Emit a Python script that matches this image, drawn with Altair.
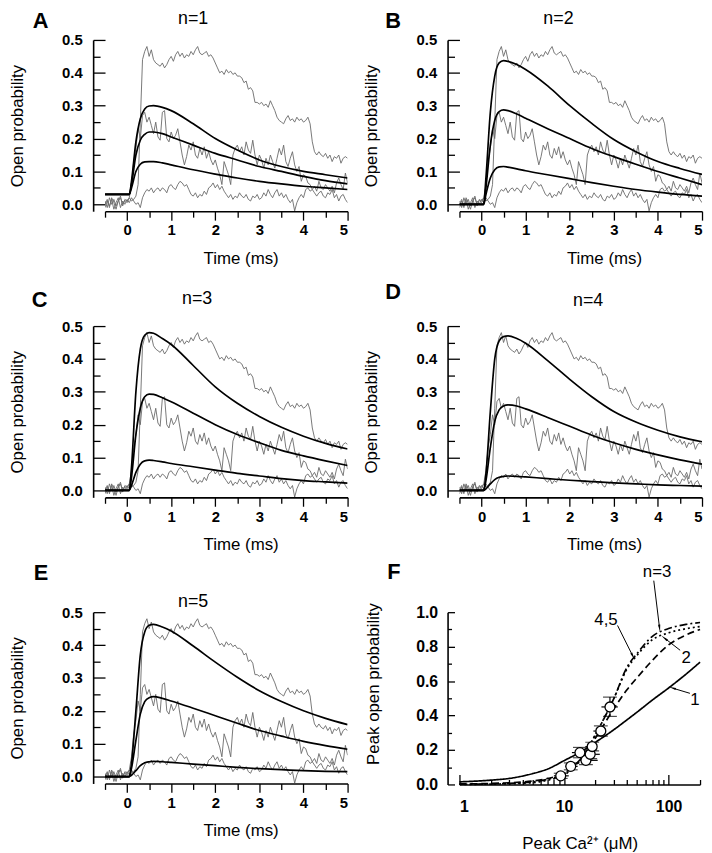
import math
import altair as alt
import pandas as pd

FONT = "Liberation Sans"

# ---------------- time-course traces (same three records in panels A-E) ----------------
TIME = [-0.5, -0.45, -0.4, -0.35, -0.3, -0.25, -0.2, -0.15, -0.1, -0.05,
        0.0, 0.05, 0.1, 0.15, 0.2, 0.25, 0.3, 0.35, 0.4, 0.45, 0.5, 0.55, 0.6, 0.65, 0.7, 0.75, 0.8, 0.85, 0.9, 0.95,
        1.0, 1.05, 1.1, 1.15, 1.2, 1.25, 1.3, 1.35, 1.4, 1.45, 1.5, 1.55, 1.6, 1.65, 1.7, 1.75, 1.8, 1.85, 1.9, 1.95,
        2.0, 2.05, 2.1, 2.15, 2.2, 2.25, 2.3, 2.35, 2.4, 2.45, 2.5, 2.55, 2.6, 2.65, 2.7, 2.75, 2.8, 2.85, 2.9, 2.95,
        3.0, 3.05, 3.1, 3.15, 3.2, 3.25, 3.3, 3.35, 3.4, 3.45, 3.5, 3.55, 3.6, 3.65, 3.7, 3.75, 3.8, 3.85, 3.9, 3.95,
        4.0, 4.05, 4.1, 4.15, 4.2, 4.25, 4.3, 4.35, 4.4, 4.45, 4.5, 4.55, 4.6, 4.65, 4.7, 4.75, 4.8, 4.85, 4.9, 4.95,
        5.0]

TRACE_TOP = [0.01, -0.01, 0.02, 0.0, 0.015, -0.005, 0.01, 0.02, 0.0, 0.012, 0.005, 0.02, 0.01, 0.015, 0.025,
             0.06, 0.25, 0.44, 0.465, 0.48, 0.45, 0.47, 0.44, 0.43, 0.425, 0.42, 0.43, 0.415, 0.425, 0.44,
             0.45, 0.435, 0.455, 0.465, 0.45, 0.46, 0.445, 0.455, 0.45, 0.465, 0.455, 0.47, 0.48, 0.46, 0.455, 0.46, 0.465, 0.45, 0.455, 0.445,
             0.43, 0.415, 0.40, 0.405, 0.395, 0.41, 0.40, 0.405, 0.395, 0.40, 0.39, 0.39, 0.385, 0.37, 0.375, 0.35, 0.355, 0.345, 0.31, 0.31,
             0.305, 0.31, 0.30, 0.305, 0.295, 0.315, 0.30, 0.285, 0.265, 0.255, 0.25, 0.245, 0.26, 0.27, 0.255, 0.26, 0.25, 0.265, 0.255, 0.26,
             0.25, 0.255, 0.265, 0.245, 0.19, 0.16, 0.15, 0.16, 0.15, 0.145, 0.155, 0.14, 0.15, 0.13, 0.145, 0.14, 0.15, 0.125, 0.14, 0.145,
             0.14]

TRACE_MID = [0.0, 0.015, -0.01, 0.02, 0.005, -0.015, 0.01, 0.025, -0.005, 0.015, 0.01,
             0.02, 0.06, 0.13, 0.17, 0.23, 0.20, 0.27, 0.28, 0.25, 0.265, 0.24, 0.215, 0.25, 0.205, 0.195, 0.28, 0.285, 0.20, 0.19,
             0.22, 0.20, 0.21, 0.23, 0.19, 0.15, 0.12, 0.145, 0.18, 0.165, 0.19, 0.15, 0.14, 0.17, 0.15, 0.175, 0.14, 0.16, 0.135, 0.12,
             0.135, 0.11, 0.09, 0.06, 0.13, 0.11, 0.09, 0.06, 0.15, 0.17, 0.18, 0.16, 0.175, 0.15, 0.19, 0.165, 0.155, 0.195, 0.15, 0.12,
             0.15, 0.135, 0.11, 0.14, 0.12, 0.15, 0.13, 0.11, 0.14, 0.17, 0.15, 0.18, 0.13, 0.115, 0.14, 0.16, 0.12, 0.10, 0.115, 0.07,
             0.09, 0.085, 0.065, 0.06, 0.045, 0.055, 0.04, 0.07, 0.05, 0.045, 0.06, 0.05, 0.04, 0.055, 0.035, 0.065, 0.08, 0.06, 0.045, 0.095,
             0.065]

TRACE_LOW = [-0.01, 0.01, -0.005, 0.015, -0.015, 0.005, 0.02, -0.01, 0.01, 0.0, 0.015,
             0.005, 0.02, 0.01, 0.0, 0.005, -0.01, 0.02, 0.035, 0.045, 0.04, 0.05, 0.035, 0.045, 0.05, 0.04, 0.05, 0.045, 0.035, 0.055,
             0.06, 0.05, 0.045, 0.06, 0.07, 0.065, 0.055, 0.06, 0.045, 0.03, 0.025, 0.035, 0.02, 0.03, 0.025, 0.04, 0.03, 0.05, 0.055, 0.065,
             0.05, 0.06, 0.045, 0.055, 0.04, 0.03, 0.02, 0.03, 0.015, 0.025, 0.02, 0.035, 0.025, 0.02, 0.03, 0.015, 0.01, 0.025, 0.02, 0.03,
             0.015, 0.02, 0.035, 0.025, 0.045, 0.03, 0.02, 0.035, 0.045, 0.025, 0.035, 0.02, 0.03, 0.015, 0.005, 0.015, -0.02, 0.005, 0.02, 0.03,
             0.02, 0.045, 0.05, 0.04, 0.045, 0.035, 0.025, 0.035, 0.04, 0.025, 0.02, 0.035, 0.03, 0.045, 0.02, 0.03, 0.01, 0.025, 0.03, 0.015,
             0.005]

# ---------------- fitted curves ----------------
FIT_TIME = [-0.5, 0.05, 0.1, 0.2, 0.3, 0.4, 0.5, 0.6, 0.8, 1.0, 1.5, 2.0, 2.5, 3.0, 3.5, 4.0, 4.5, 5.0]

FIT_A_HIGH = [0.03, 0.03, 0.07, 0.19, 0.26, 0.29, 0.299, 0.30, 0.295, 0.285, 0.245, 0.20, 0.165, 0.135, 0.115, 0.10, 0.09, 0.08]
FIT_A_MID = [0.03, 0.03, 0.06, 0.15, 0.195, 0.213, 0.22, 0.22, 0.215, 0.205, 0.18, 0.155, 0.135, 0.115, 0.10, 0.085, 0.072, 0.062]
FIT_A_LOW = [0.03, 0.03, 0.05, 0.10, 0.122, 0.129, 0.13, 0.13, 0.126, 0.12, 0.105, 0.092, 0.08, 0.07, 0.062, 0.055, 0.05, 0.045]

FIT_B_HIGH = [0, 0, 0.08, 0.28, 0.39, 0.43, 0.437, 0.435, 0.425, 0.41, 0.36, 0.30, 0.246, 0.197, 0.16, 0.13, 0.109, 0.091]
FIT_B_MID = [0, 0, 0.05, 0.18, 0.255, 0.282, 0.287, 0.285, 0.275, 0.262, 0.23, 0.20, 0.17, 0.145, 0.122, 0.10, 0.08, 0.06]
FIT_B_LOW = [0, 0, 0.03, 0.08, 0.105, 0.114, 0.115, 0.113, 0.108, 0.102, 0.09, 0.078, 0.066, 0.055, 0.045, 0.037, 0.03, 0.025]

FIT_C_HIGH = [0, 0, 0.07, 0.30, 0.43, 0.472, 0.48, 0.478, 0.462, 0.444, 0.38, 0.315, 0.265, 0.225, 0.192, 0.165, 0.143, 0.126]
FIT_C_MID = [0, 0, 0.04, 0.17, 0.25, 0.285, 0.293, 0.292, 0.282, 0.27, 0.235, 0.20, 0.17, 0.145, 0.122, 0.105, 0.09, 0.076]
FIT_C_LOW = [0, 0, 0.015, 0.055, 0.08, 0.09, 0.092, 0.091, 0.087, 0.082, 0.072, 0.062, 0.052, 0.044, 0.036, 0.03, 0.026, 0.022]

FIT_D_HIGH = [0, 0, 0.05, 0.24, 0.40, 0.455, 0.468, 0.47, 0.462, 0.448, 0.395, 0.338, 0.285, 0.24, 0.208, 0.183, 0.163, 0.148]
FIT_D_MID = [0, 0, 0.03, 0.13, 0.21, 0.245, 0.257, 0.26, 0.257, 0.248, 0.222, 0.195, 0.168, 0.145, 0.125, 0.108, 0.093, 0.08]
FIT_D_LOW = [0, 0, 0.005, 0.02, 0.033, 0.04, 0.043, 0.044, 0.043, 0.041, 0.036, 0.031, 0.027, 0.023, 0.02, 0.017, 0.015, 0.013]

FIT_E_HIGH = [0, 0, 0.04, 0.20, 0.37, 0.44, 0.46, 0.463, 0.455, 0.443, 0.397, 0.348, 0.302, 0.261, 0.228, 0.20, 0.177, 0.158]
FIT_E_MID = [0, 0, 0.025, 0.11, 0.19, 0.228, 0.24, 0.243, 0.238, 0.23, 0.208, 0.185, 0.162, 0.14, 0.123, 0.107, 0.094, 0.083]
FIT_E_LOW = [0, 0, 0.004, 0.018, 0.033, 0.042, 0.045, 0.046, 0.045, 0.043, 0.038, 0.033, 0.028, 0.024, 0.021, 0.018, 0.016, 0.015]

# axis tick values
X_MAJOR = [0, 1, 2, 3, 4, 5]
X_MINOR = [-0.5, 0.5, 1.5, 2.5, 3.5, 4.5]
Y_MAJOR = [0.0, 0.1, 0.2, 0.3, 0.4, 0.5]
Y_MINOR = [0.05, 0.15, 0.25, 0.35, 0.45]

# ---------------- panel F ----------------
CONC = [1, 2, 3, 5, 7, 10, 15, 20, 30, 40, 50, 70, 100, 150, 200]
PEAK_N1 = [0.015, 0.025, 0.035, 0.063, 0.09, 0.138, 0.195, 0.245, 0.318, 0.375, 0.42, 0.49, 0.56, 0.645, 0.71]
PEAK_N2 = [0.003, 0.006, 0.01, 0.02, 0.035, 0.065, 0.16, 0.27, 0.44, 0.55, 0.62, 0.72, 0.81, 0.87, 0.90]
PEAK_N3 = [0.001, 0.003, 0.006, 0.014, 0.03, 0.06, 0.16, 0.29, 0.50, 0.68, 0.76, 0.86, 0.905, 0.93, 0.94]
PEAK_N45 = [0.0, 0.002, 0.004, 0.01, 0.025, 0.055, 0.155, 0.29, 0.50, 0.67, 0.75, 0.84, 0.88, 0.905, 0.917]
MODEL_NAMES = ["1", "2", "3", "4,5"]
MODEL_DASHES = [[1, 0], [7, 4], [8, 3, 2, 3], [2, 3]]

PT_X = [9.3, 11.6, 14.2, 16.2, 17.8, 18.6, 22.5, 27.5]
PT_Y = [0.05, 0.105, 0.185, 0.14, 0.175, 0.22, 0.31, 0.45]
PT_XLO = [8.0, 10.3, 11.9, 14.3, 15.9, 16.0, 19.1, 22.8]
PT_XHI = [11.1, 13.5, 16.5, 21.0, 22.0, 20.5, 25.0, 32.7]
PT_YLO = [0.035, 0.085, 0.155, 0.115, 0.15, 0.195, 0.28, 0.395]
PT_YHI = [0.065, 0.125, 0.215, 0.165, 0.20, 0.245, 0.34, 0.507]

ANN_TEXT = ["n=3", "4,5", "2", "1"]
ANN_X = [77.6, 25.2, 147.0, 178.6]
ANN_Y = [1.235, 0.952, 0.731, 0.49]
ARROW_TAIL_X = [72.2, 32.5, 129.0, 160.0]
ARROW_TAIL_Y = [1.183, 0.923, 0.779, 0.529]
ARROW_HEAD_X = [81.8, 45.1, 93.0, 111.0]
ARROW_HEAD_Y = [0.913, 0.75, 0.846, 0.558]

FX_MAJOR = [1, 10, 100]
FX_MINOR = [2, 3, 4, 5, 6, 7, 8, 9, 20, 30, 40, 50, 60, 70, 80, 90, 200]
FY_MAJOR = [0.0, 0.2, 0.4, 0.6, 0.8, 1.0]
FY_MINOR = [0.1, 0.3, 0.5, 0.7, 0.9]

PW, PH = 245, 173
FW, FH = 243, 174

noisy_df = pd.DataFrame({
    "t": TIME * 3,
    "p": TRACE_TOP + TRACE_MID + TRACE_LOW,
    "trace": ["top"] * len(TIME) + ["mid"] * len(TIME) + ["low"] * len(TIME),
})


def label_layer(text, dx, dy, size, weight, align):
    return alt.Chart(pd.DataFrame({"s": [text]})).mark_text(
        font=FONT, fontSize=size, fontWeight=weight, align=align, baseline="middle", color="black"
    ).encode(text="s:N", x=alt.value(dx), y=alt.value(dy))


def time_panel(fits, letter, ntext, letter_pos, n_pos, title_x):
    fit_df = pd.DataFrame({
        "t": FIT_TIME * 3,
        "p": fits[0] + fits[1] + fits[2],
        "curve": ["hi"] * len(FIT_TIME) + ["mid"] * len(FIT_TIME) + ["lo"] * len(FIT_TIME),
    })
    xs = alt.Scale(domain=[-0.5, 5], nice=False, zero=False)
    ys = alt.Scale(domain=[-0.021, 0.5], nice=False, zero=False)
    traces = alt.Chart(noisy_df).mark_line(color="#6a6a6a", strokeWidth=0.9, clip=True).encode(
        x=alt.X("t:Q", scale=xs, axis=alt.Axis(orient="bottom", values=X_MAJOR, format="d", tickSize=9,
                                               labelPadding=3, domain=True, title="Time (ms)",
                                               titlePadding=13, titleX=title_x)),
        y=alt.Y("p:Q", scale=ys, axis=alt.Axis(orient="left", values=Y_MAJOR, format=".1f", tickSize=12,
                                               offset=0, labelPadding=11, domain=False,
                                               title="Open probability", titlePadding=36)),
        detail="trace:N",
    )
    fit = alt.Chart(fit_df).mark_line(color="black", strokeWidth=1.7, interpolate="monotone", clip=True).encode(
        x=alt.X("t:Q", scale=xs, axis=alt.Axis(orient="bottom", values=X_MINOR, tickSize=6, labels=False,
                                               domain=False, title=None)),
        y=alt.Y("p:Q", scale=ys, axis=alt.Axis(orient="left", values=Y_MINOR, tickSize=7, offset=5,
                                               labels=False, domain=False, title=None)),
        detail="curve:N",
    )
    frame = alt.Chart(noisy_df).mark_line(opacity=0).encode(
        x=alt.X("t:Q", scale=xs, axis=None),
        y=alt.Y("p:Q", scale=ys, axis=alt.Axis(orient="left", offset=12, ticks=False, labels=False,
                                               domain=True, title=None)),
        detail="trace:N",
    )
    lt = label_layer(letter, letter_pos[0], letter_pos[1], 22, "bold", "left")
    nt = label_layer(ntext, n_pos[0], n_pos[1], 18, "normal", "center")
    return alt.layer(traces, fit, frame, lt, nt).resolve_axis(
        x="independent", y="independent").properties(width=PW, height=PH)


panel_a = time_panel([FIT_A_HIGH, FIT_A_MID, FIT_A_LOW], "A", "n=1", (-73, -19), (89, -21), 137)
panel_b = time_panel([FIT_B_HIGH, FIT_B_MID, FIT_B_LOW], "B", "n=2", (-75, -19), (100, -21), 146)
panel_c = time_panel([FIT_C_HIGH, FIT_C_MID, FIT_C_LOW], "C", "n=3", (-74, -26), (93, -27), 137)
panel_d = time_panel([FIT_D_HIGH, FIT_D_MID, FIT_D_LOW], "D", "n=4", (-75, -34), (130, -25), 146)
panel_e = time_panel([FIT_E_HIGH, FIT_E_MID, FIT_E_LOW], "E", "n=5", (-72, -40), (89, -10), 137)

# ---------------- panel F ----------------
fx = alt.Scale(type="log", domain=[1, 200], nice=False)
fy = alt.Scale(domain=[0, 1], nice=False, zero=False)

curves_df = pd.DataFrame({
    "c": CONC * 4,
    "p": PEAK_N1 + PEAK_N2 + PEAK_N3 + PEAK_N45,
    "model": [m for m in MODEL_NAMES for _ in CONC],
})
pts_df = pd.DataFrame({"x": PT_X, "y": PT_Y, "xlo": PT_XLO, "xhi": PT_XHI, "ylo": PT_YLO, "yhi": PT_YHI})


def to_px(x, y):
    return FW * math.log10(x) / math.log10(200), FH * (1 - y)


angles = []
for tx, ty, hx, hy in zip(ARROW_TAIL_X, ARROW_TAIL_Y, ARROW_HEAD_X, ARROW_HEAD_Y):
    x0, y0 = to_px(tx, ty)
    x1, y1 = to_px(hx, hy)
    a = math.degrees(math.atan2(x1 - x0, -(y1 - y0))) % 360
    angles.append(round(a, 1))

arrow_df = pd.DataFrame({"x": ARROW_TAIL_X, "y": ARROW_TAIL_Y, "x2": ARROW_HEAD_X, "y2": ARROW_HEAD_Y,
                         "angle": angles})
ann_df = pd.DataFrame({"x": ANN_X, "y": ANN_Y, "s": ANN_TEXT})

f_curves = alt.Chart(curves_df).mark_line(color="black", strokeWidth=1.7, interpolate="monotone").encode(
    x=alt.X("c:Q", scale=fx, axis=alt.Axis(orient="bottom", values=FX_MAJOR, format="d", offset=-10, tickSize=10,
                                           labelPadding=14, labelFontSize=16, domain=False,
                                           title="Peak Ca²⁺ (μM)", titlePadding=22)),
    y=alt.Y("p:Q", scale=fy, axis=alt.Axis(orient="left", values=FY_MAJOR, format=".1f", offset=5, tickSize=7,
                                           labelPadding=10, labelFontSize=16, domain=False,
                                           title="Peak open probability", titlePadding=34, titleY=72)),
    strokeDash=alt.StrokeDash("model:N", scale=alt.Scale(domain=MODEL_NAMES, range=MODEL_DASHES), legend=None),
    detail="model:N",
)
f_xbars = alt.Chart(pts_df).mark_rule(color="black", strokeWidth=1.2).encode(
    x=alt.X("xlo:Q", scale=fx, axis=alt.Axis(orient="bottom", values=FX_MINOR, offset=-5, tickSize=5,
                                             labels=False, domain=False, title=None)),
    x2="xhi:Q",
    y=alt.Y("y:Q", scale=fy, axis=alt.Axis(orient="left", values=FY_MINOR, offset=8, tickSize=4,
                                           labels=False, domain=False, title=None)),
)
f_ybars = alt.Chart(pts_df).mark_rule(color="black", strokeWidth=1.2).encode(
    x=alt.X("x:Q", scale=fx, axis=alt.Axis(orient="bottom", offset=0, ticks=False, labels=False,
                                           domain=True, title=None)),
    y=alt.Y("ylo:Q", scale=fy, axis=alt.Axis(orient="left", offset=12, ticks=False, labels=False,
                                             domain=True, title=None)),
    y2="yhi:Q",
)
f_cap_lo = alt.Chart(pts_df).mark_tick(orient="horizontal", size=14, thickness=1.2, color="black").encode(
    x=alt.X("x:Q", scale=fx, axis=None), y=alt.Y("ylo:Q", scale=fy, axis=None))
f_cap_hi = alt.Chart(pts_df).mark_tick(orient="horizontal", size=14, thickness=1.2, color="black").encode(
    x=alt.X("x:Q", scale=fx, axis=None), y=alt.Y("yhi:Q", scale=fy, axis=None))
f_pts = alt.Chart(pts_df).mark_point(shape="circle", filled=True, fill="white", stroke="black",
                                     strokeWidth=1.3, size=100, opacity=1).encode(
    x=alt.X("x:Q", scale=fx, axis=None), y=alt.Y("y:Q", scale=fy, axis=None))
f_arrows = alt.Chart(arrow_df).mark_rule(color="black", strokeWidth=1).encode(
    x=alt.X("x:Q", scale=fx, axis=None), x2="x2:Q",
    y=alt.Y("y:Q", scale=fy, axis=None), y2="y2:Q")
f_heads = alt.Chart(arrow_df).mark_point(shape="wedge", filled=True, color="black", size=80, opacity=1).encode(
    x=alt.X("x2:Q", scale=fx, axis=None), y=alt.Y("y2:Q", scale=fy, axis=None),
    angle=alt.Angle("angle:Q", scale=None))
f_text = alt.Chart(ann_df).mark_text(font=FONT, fontSize=17, align="center", baseline="middle",
                                     color="black").encode(
    x=alt.X("x:Q", scale=fx, axis=None), y=alt.Y("y:Q", scale=fy, axis=None), text="s:N")
f_letter = label_layer("F", -73, -41, 22, "bold", "left")

panel_f = alt.layer(f_curves, f_xbars, f_ybars, f_cap_lo, f_cap_hi, f_pts, f_arrows, f_heads, f_text,
                    f_letter).resolve_axis(x="independent", y="independent").properties(width=FW, height=FH)

chart = alt.concat(panel_a, panel_b, panel_c, panel_d, panel_e, panel_f, columns=2,
                   spacing={"row": 116, "column": 113}, bounds="flush").properties(
    padding={"top": -2, "left": 0, "right": 0, "bottom": 0}, background="white"
).configure_axis(
    grid=False, labelFont=FONT, labelFontSize=15, labelFontWeight="bold", labelColor="black",
    titleFont=FONT, titleFontSize=17, titleFontWeight="normal", titleColor="black",
    tickColor="black", domainColor="black", tickWidth=1.3, domainWidth=1.6,
).configure_view(strokeOpacity=0)

chart.save("out.html", embed_options={"renderer": "svg", "actions": False})
